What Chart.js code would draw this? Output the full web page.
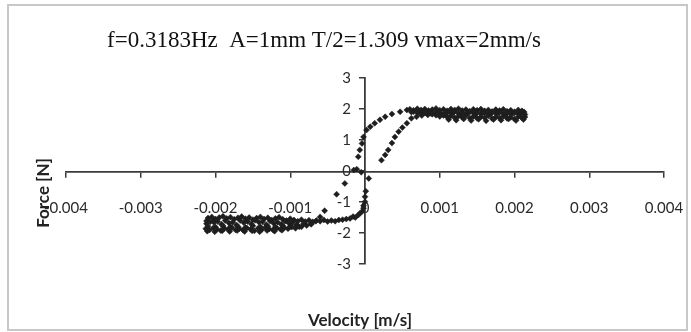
<!DOCTYPE html>
<html>
<head>
<meta charset="utf-8">
<script src="https://cdn.jsdelivr.net/npm/chart.js@4.4.1/dist/chart.umd.min.js"></script>
<style>
html,body{margin:0;padding:0;background:#fff;}
#wrap{position:relative;width:691px;height:332px;}
</style>
</head>
<body>
<div id="wrap"><canvas id="c" width="691" height="332"></canvas></div>
<script>
// ---- data (velocity m/s, force N) ----
const titleText = "f=0.3183Hz  A=1mm T/2=1.309 vmax=2mm/s";
const xTitle = "Velocity [m/s]";
const yTitle = "Force [N]";
const xTickValues = [-0.004, -0.003, -0.002, -0.001, 0, 0.001, 0.002, 0.003, 0.004];
const xTickLabels = ["-0.004", "-0.003", "-0.002", "-0.001", "0", "0.001", "0.002", "0.003", "0.004"];
const yTickValues = [-3, -2, -1, 0, 1, 2, 3];
const yTickLabels = ["-3", "-2", "-1", "0", "1", "2", "3"];

const riseUpper = [[-0.00009,0.46],[-0.00007,0.68],[-0.00004,0.89],[-0.00002,1.10],[0.00002,1.32],[0.00007,1.43],[0.00013,1.54],[0.00020,1.65],[0.00027,1.75],[0.00036,1.84],[0.00047,1.91],[0.00056,1.97]];
const riseUpperLate = [[0.00022,0.35],[0.00027,0.52],[0.00031,0.68],[0.00036,0.90],[0.00040,1.10],[0.00045,1.27],[0.00050,1.40],[0.00056,1.54],[0.00062,1.70],[0.00069,1.75],[0.00076,1.79],[0.00084,1.81],[0.00090,1.83]];
const plateauUpperTop = [[0.00060,1.99],[0.00065,1.96],[0.00070,2.01],[0.00075,1.97],[0.00080,2.00],[0.00085,1.95],[0.00090,1.98],[0.00095,2.02],[0.00100,1.96],[0.00105,1.99],[0.00110,1.94],[0.00115,2.00],[0.00120,1.97],[0.00125,2.01],[0.00130,1.95],[0.00135,1.98],[0.00140,1.93],[0.00145,1.99],[0.00150,1.96],[0.00155,2.00],[0.00160,1.94],[0.00165,1.97],[0.00170,1.92],[0.00175,1.98],[0.00180,1.95],[0.00185,1.99],[0.00190,1.93],[0.00195,1.96],[0.00200,1.91],[0.00205,1.97],[0.00210,1.94],[0.00213,1.90]];
const plateauUpperMid = [[0.00062,1.90],[0.00065,1.91],[0.00070,1.88],[0.00072,1.88],[0.00075,1.92],[0.00080,1.87],[0.00085,1.90],[0.00088,1.86],[0.00090,1.86],[0.00095,1.91],[0.00098,1.90],[0.00100,1.88],[0.00105,1.85],[0.00108,1.84],[0.00110,1.90],[0.00115,1.87],[0.00118,1.88],[0.00120,1.92],[0.00125,1.86],[0.00128,1.82],[0.00130,1.89],[0.00135,1.84],[0.00138,1.87],[0.00140,1.90],[0.00145,1.87],[0.00148,1.83],[0.00150,1.91],[0.00155,1.85],[0.00158,1.89],[0.00160,1.88],[0.00165,1.84],[0.00168,1.84],[0.00170,1.89],[0.00175,1.86],[0.00178,1.86],[0.00180,1.90],[0.00185,1.85],[0.00188,1.81],[0.00190,1.88],[0.00195,1.83],[0.00198,1.87],[0.00200,1.87],[0.00205,1.85],[0.00208,1.84],[0.00210,1.89],[0.00214,1.82]];
const plateauUpperLow = [[0.00095,1.80],[0.00100,1.76],[0.00105,1.79],[0.00110,1.74],[0.00115,1.78],[0.00120,1.72],[0.00125,1.77],[0.00130,1.73],[0.00135,1.79],[0.00140,1.71],[0.00145,1.76],[0.00150,1.70],[0.00155,1.75],[0.00160,1.72],[0.00165,1.78],[0.00170,1.69],[0.00175,1.74],[0.00180,1.71],[0.00185,1.77],[0.00190,1.70],[0.00195,1.73],[0.00200,1.68],[0.00205,1.75],[0.00210,1.71],[0.00214,1.74]];
const plateauUpperBottom = [[0.00112,1.66],[0.00122,1.64],[0.00132,1.68],[0.00142,1.63],[0.00152,1.67],[0.00162,1.62],[0.00172,1.66],[0.00182,1.64],[0.00192,1.68],[0.00202,1.63],[0.00212,1.66]];
const nearZero = [[-0.00015,0.03],[-0.00011,0.06],[-0.00005,-0.04],[0.00005,-0.24],[-0.00027,-0.40],[0.00001,-0.65]];
const fallLower = [[0.00000,-0.83],[0.00000,-0.99],[-0.00002,-1.12],[-0.00002,-1.20],[-0.00004,-1.31],[-0.00007,-1.37],[-0.00009,-1.42],[-0.00013,-1.50]];
const fallLowerLate = [[-0.00038,-0.75],[-0.00054,-1.28],[-0.00060,-1.48],[-0.00066,-1.62],[-0.00072,-1.70],[-0.00078,-1.76],[-0.00085,-1.80]];
const plateauLowerTop = [[-0.00210,-1.52],[-0.00205,-1.48],[-0.00200,-1.55],[-0.00195,-1.50],[-0.00190,-1.46],[-0.00185,-1.53],[-0.00180,-1.49],[-0.00175,-1.56],[-0.00170,-1.51],[-0.00165,-1.47],[-0.00160,-1.54],[-0.00155,-1.50],[-0.00150,-1.57],[-0.00145,-1.52],[-0.00140,-1.48],[-0.00135,-1.55],[-0.00130,-1.51],[-0.00125,-1.58],[-0.00120,-1.53],[-0.00115,-1.49],[-0.00110,-1.56],[-0.00105,-1.60],[-0.00100,-1.54],[-0.00095,-1.58],[-0.00090,-1.62],[-0.00085,-1.57],[-0.00080,-1.63],[-0.00075,-1.59],[-0.00070,-1.64],[-0.00065,-1.60],[-0.00060,-1.62],[-0.00055,-1.58],[-0.00050,-1.63],[-0.00045,-1.60],[-0.00040,-1.62],[-0.00035,-1.58],[-0.00030,-1.57],[-0.00025,-1.55],[-0.00020,-1.53],[-0.00016,-1.47]];
const plateauLowerUpperMid = [[-0.00212,-1.61],[-0.00207,-1.64],[-0.00202,-1.59],[-0.00197,-1.63],[-0.00187,-1.60],[-0.00177,-1.65],[-0.00167,-1.60],[-0.00157,-1.63],[-0.00147,-1.59],[-0.00137,-1.64],[-0.00127,-1.61],[-0.00117,-1.65],[-0.00107,-1.62],[-0.00097,-1.66]];
const plateauLowerMid = [[-0.00212,-1.70],[-0.00202,-1.66],[-0.00192,-1.72],[-0.00182,-1.68],[-0.00172,-1.74],[-0.00162,-1.67],[-0.00152,-1.71],[-0.00142,-1.65],[-0.00132,-1.73],[-0.00122,-1.69],[-0.00112,-1.72],[-0.00102,-1.68],[-0.00092,-1.74],[-0.00082,-1.70],[-0.00072,-1.72]];
const plateauLowerLowerMid = [[-0.00210,-1.78],[-0.00200,-1.81],[-0.00190,-1.77],[-0.00180,-1.80],[-0.00170,-1.79],[-0.00160,-1.82],[-0.00150,-1.77],[-0.00140,-1.80],[-0.00130,-1.78],[-0.00120,-1.81],[-0.00110,-1.77],[-0.00100,-1.79],[-0.00090,-1.76]];
const plateauLowerLow = [[-0.00213,-1.86],[-0.00208,-1.90],[-0.00203,-1.84],[-0.00198,-1.88],[-0.00193,-1.92],[-0.00188,-1.85],[-0.00183,-1.89],[-0.00178,-1.83],[-0.00173,-1.90],[-0.00168,-1.86],[-0.00163,-1.91],[-0.00158,-1.84],[-0.00153,-1.88],[-0.00148,-1.93],[-0.00143,-1.85],[-0.00138,-1.89],[-0.00133,-1.82],[-0.00128,-1.87],[-0.00123,-1.90],[-0.00118,-1.84],[-0.00113,-1.88],[-0.00108,-1.83],[-0.00103,-1.86],[-0.00098,-1.81],[-0.00093,-1.85],[-0.00088,-1.80]];
const plateauLowerBottom = [[-0.00211,-1.94],[-0.00201,-1.96],[-0.00191,-1.93],[-0.00181,-1.95],[-0.00171,-1.92],[-0.00161,-1.95],[-0.00151,-1.93],[-0.00141,-1.96],[-0.00131,-1.92],[-0.00121,-1.94],[-0.00111,-1.91]];

const segments = [riseUpper, riseUpperLate, plateauUpperTop, plateauUpperMid, plateauUpperLow, plateauUpperBottom,
  nearZero, fallLower, fallLowerLate, plateauLowerTop, plateauLowerUpperMid, plateauLowerMid, plateauLowerLowerMid, plateauLowerLow, plateauLowerBottom];
const points = [];
segments.forEach(s => s.forEach(p => points.push({x: p[0], y: p[1]})));

// ---- chart ----
const axisColor = '#3a3a3a';
const tickFont = {family: 'Lato', size: 15};

const textPlugin = {
  id: 'textPlugin',
  beforeDraw(chart) {
    const ctx = chart.ctx;
    ctx.save();
    ctx.fillStyle = '#fff';
    ctx.fillRect(0, 0, chart.width, chart.height);
    ctx.strokeStyle = '#c8c8c8';
    ctx.lineWidth = 2;
    ctx.strokeRect(8, 5, 679, 325);
    ctx.restore();
  },
  afterDraw(chart) {
    const ctx = chart.ctx;
    ctx.save();
    ctx.fillStyle = '#111';
    ctx.font = '23px "Liberation Serif"';
    ctx.textBaseline = 'middle';
    ctx.textAlign = 'left';
    ctx.fillText(titleText, 107, 41);
    ctx.font = 'bold 17px Lato';
    ctx.fillStyle = '#222';
    ctx.textAlign = 'center';
    ctx.fillText(xTitle, 360, 321);
    ctx.translate(44, 193);
    ctx.rotate(-Math.PI / 2);
    ctx.fillText(yTitle, 0, 0);
    ctx.restore();
  }
};

new Chart(document.getElementById('c'), {
  type: 'scatter',
  data: {
    datasets: [{
      data: points,
      pointStyle: 'rectRot',
      pointRadius: 3,
      backgroundColor: '#1e1e1e',
      borderColor: '#1e1e1e',
      borderWidth: 0.5
    }]
  },
  options: {
    responsive: false,
    animation: false,
    events: [],
    layout: {padding: {left: 66, right: 27, top: 78, bottom: 68}},
    plugins: {legend: {display: false}, title: {display: false}, tooltip: {enabled: false}},
    scales: {
      x: {
        type: 'linear', min: -0.004, max: 0.004,
        position: 'center',
        afterBuildTicks: s => { s.ticks = xTickValues.map(v => ({value: v})); },
        afterFit: s => { s.paddingLeft = 0; s.paddingRight = 0; },
        ticks: {font: tickFont, color: '#2a2a2a', padding: 23, maxRotation: 0, autoSkip: false,
          callback: (v, i) => xTickLabels[i]},
        grid: {drawOnChartArea: false, drawTicks: true, tickLength: 5, color: axisColor, lineWidth: 1.5},
        border: {display: true, color: axisColor, width: 1.8}
      },
      y: {
        type: 'linear', min: -3, max: 3,
        position: 'center',
        afterBuildTicks: s => { s.ticks = yTickValues.map(v => ({value: v})); },
        afterFit: s => { s.paddingTop = 0; s.paddingBottom = 0; },
        ticks: {font: tickFont, color: '#2a2a2a', padding: 9, autoSkip: false,
          callback: (v, i) => yTickLabels[i]},
        grid: {drawOnChartArea: false, drawTicks: true, tickLength: 5, color: axisColor, lineWidth: 1.5},
        border: {display: true, color: axisColor, width: 1.8}
      }
    }
  },
  plugins: [textPlugin]
});
</script>
</body>
</html>
